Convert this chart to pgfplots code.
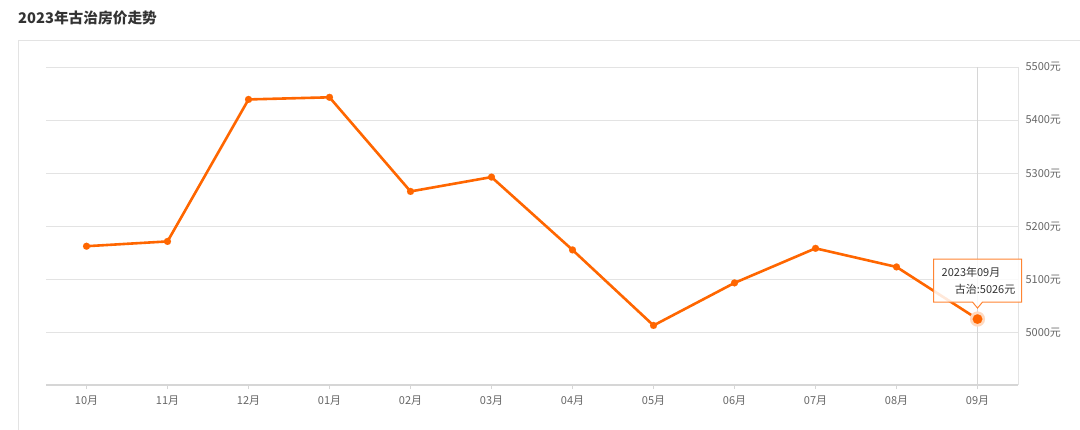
\documentclass[border=0pt]{standalone}
\usepackage{pgfplots}
\pgfplotsset{compat=1.18}
\usepackage{fontspec}
\setmainfont{Noto Sans CJK SC}
\definecolor{lineor}{HTML}{FF6600}
\definecolor{gridc}{HTML}{E3E3E3}
\definecolor{axc}{HTML}{D6D6D6}
\definecolor{tickc}{HTML}{666666}
\definecolor{titlec}{HTML}{333333}
\begin{document}
\begin{tikzpicture}[x=1bp,y=1bp]
\useasboundingbox (0,0) rectangle (1080,429);
% outer frame
\draw[gridc, line width=1bp] (18.5,-2) -- (18.5,388.5) -- (1085,388.5);
% title
\node[anchor=west, inner sep=0pt, text=titlec, font=\fontsize{14.7bp}{17bp}\selectfont\bfseries] at (18,411) {2023年古治房价走势};
\begin{axis}[
  at={(46bp,44bp)}, anchor=south west,
  scale only axis, width=972bp, height=318bp,
  xmin=-0.5, xmax=11.5, ymin=4902, ymax=5500,
  axis x line*=bottom, axis y line*=right,
  x axis line style={axc, line width=1.5bp, -},
  y axis line style={gridc, line width=1bp, -},
  xtick={0,...,11},
  xticklabels={10月,11月,12月,01月,02月,03月,04月,05月,06月,07月,08月,09月},
  ytick={5000,5100,5200,5300,5400,5500},
  yticklabels={5000元,5100元,5200元,5300元,5400元,5500元},
  yticklabel pos=right,
  ymajorgrids, grid style={gridc, line width=0.8bp},
  major x tick style={axc, line width=1bp}, major tick length=4bp,
  xtick align=outside,
  major y tick style={draw=none},
  tick label style={text=tickc, font=\fontsize{11bp}{13bp}\selectfont},
  xticklabel style={yshift=-3bp},
  yticklabel style={xshift=4bp},
  extra x ticks={11}, extra x tick labels={},
  extra x tick style={grid=major, major grid style={axc, line width=1bp}, tick style={draw=none}},
  clip=false,
]
\addplot[color=lineor, line width=2.6bp, mark=*, mark size=3.5bp, mark options={solid, line width=0.1bp, fill=lineor, draw=lineor}]
coordinates {
(0,5163) (1,5172) (2,5439) (3,5443) (4,5266) (5,5293)
(6,5156) (7,5014) (8,5094) (9,5159) (10,5124) (11,5026)
};
% highlighted point
\addplot[color=lineor!25, only marks, mark=*, mark size=7.5bp, mark options={fill=lineor!25, draw=lineor!25, line width=0.1bp}] coordinates {(11,5026)};
\addplot[color=lineor, only marks, mark=*, mark size=4.8bp, mark options={fill=lineor, draw=lineor, line width=0.1bp}] coordinates {(11,5026)};
% tooltip
\draw[lineor!80, line width=1bp, fill=white, fill opacity=0.85]
  ([xshift=-44bp,yshift=17bp]axis cs:11,5026) -- ([xshift=-5bp,yshift=17bp]axis cs:11,5026)
  -- ([xshift=0bp,yshift=11bp]axis cs:11,5026) -- ([xshift=5bp,yshift=17bp]axis cs:11,5026)
  -- ([xshift=44bp,yshift=17bp]axis cs:11,5026) -- ([xshift=44bp,yshift=60bp]axis cs:11,5026)
  -- ([xshift=-44bp,yshift=60bp]axis cs:11,5026) -- cycle;
\node[anchor=west, inner sep=0pt, text=titlec, font=\fontsize{11bp}{13bp}\selectfont] at ([xshift=-36bp,yshift=47bp]axis cs:11,5026) {2023年09月};
\node[anchor=east, inner sep=0pt, text=titlec, font=\fontsize{11bp}{13bp}\selectfont] at ([xshift=38bp,yshift=30bp]axis cs:11,5026) {古治:5026元};
\end{axis}
\end{tikzpicture}
\end{document}
